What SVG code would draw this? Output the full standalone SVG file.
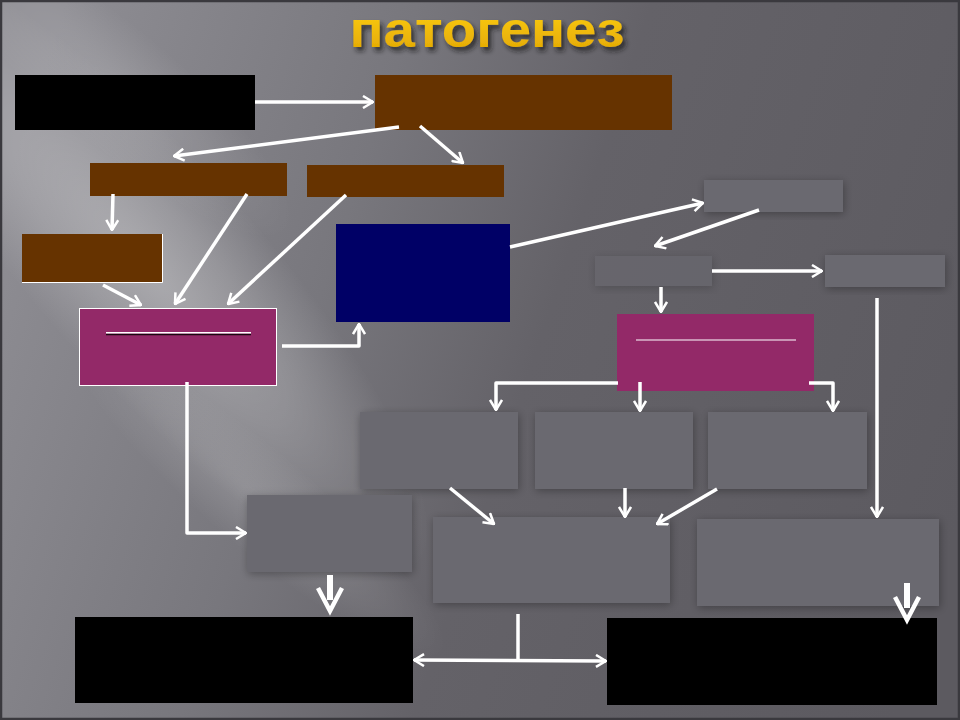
<svg xmlns="http://www.w3.org/2000/svg" width="960" height="720" viewBox="0 0 960 720">
<defs>
<linearGradient id="bg" gradientUnits="userSpaceOnUse" x1="0" y1="200" x2="960" y2="520">
<stop offset="0" stop-color="#8e8d93"/>
<stop offset="0.33" stop-color="#78777d"/>
<stop offset="0.55" stop-color="#646268"/>
<stop offset="1" stop-color="#5c5a60"/>
</linearGradient>
<radialGradient id="glow">
<stop offset="0" stop-color="#ffffff" stop-opacity="0.32"/>
<stop offset="0.5" stop-color="#ffffff" stop-opacity="0.18"/>
<stop offset="1" stop-color="#ffffff" stop-opacity="0"/>
</radialGradient>
<radialGradient id="glow2">
<stop offset="0" stop-color="#ffffff" stop-opacity="0.16"/>
<stop offset="1" stop-color="#ffffff" stop-opacity="0"/>
</radialGradient>
<linearGradient id="gold" x1="0" y1="0" x2="0" y2="1">
<stop offset="0" stop-color="#ffd21a"/>
<stop offset="1" stop-color="#e0a400"/>
</linearGradient>
<filter id="sh" x="-10%" y="-30%" width="130%" height="180%">
<feDropShadow dx="3" dy="4" stdDeviation="2.5" flood-color="#1a1a1a" flood-opacity="0.75"/>
</filter>
<filter id="bs" x="-15%" y="-25%" width="130%" height="150%">
<feDropShadow dx="1" dy="2" stdDeviation="4" flood-color="#000" flood-opacity="0.3"/>
</filter>
<marker id="ah" viewBox="0 0 12 14" markerUnits="userSpaceOnUse" markerWidth="12" markerHeight="14" refX="11" refY="7" orient="auto-start-reverse">
<path d="M1,1 L11,7 L1,13" fill="none" stroke="#fff" stroke-width="2.5"/>
</marker>
<style>
.c{fill:none;stroke:#fff;stroke-width:3.5;stroke-linejoin:round}
.a{marker-end:url(#ah)}
.thick{fill:none;stroke:#fff;stroke-width:6}
.chev{fill:none;stroke:#fff;stroke-width:4.5}
.blk{fill:#000}
.brn{fill:#663300}
.nvy{fill:#000066}
.mag{fill:#932968}
.gry{fill:#6b696f;filter:url(#bs)}
</style>
</defs>
<rect x="0" y="0" width="960" height="720" fill="url(#bg)"/>
<ellipse cx="150" cy="270" rx="400" ry="110" fill="url(#glow)" transform="rotate(48 150 270)"/>
<ellipse cx="120" cy="90" rx="220" ry="60" fill="url(#glow2)" transform="rotate(40 120 90)"/>
<ellipse cx="260" cy="500" rx="240" ry="50" fill="url(#glow2)" transform="rotate(40 260 500)"/>
<rect x="1" y="1" width="958" height="718" fill="none" stroke="#3a393e" stroke-width="2.5"/>

<text x="487" y="47" text-anchor="middle" font-family="'Liberation Sans', Arial, sans-serif" font-weight="bold" font-size="50" fill="url(#gold)" filter="url(#sh)" textLength="275" lengthAdjust="spacingAndGlyphs">патогенез</text>

<g id="n1"><rect class="blk" x="15" y="75" width="240" height="55"/></g>
<g id="n2"><rect class="brn" x="375" y="75" width="297" height="55"/></g>
<g id="n3"><rect class="brn" x="90" y="163" width="197" height="33"/></g>
<g id="n4"><rect class="brn" x="307" y="165" width="197" height="32"/></g>
<g id="n5"><rect class="brn" x="22" y="234" width="140" height="48"/><path d="M22,282.5 H162.5 V234" fill="none" stroke="#fff" stroke-width="1"/></g>
<g id="n6"><rect class="nvy" x="336" y="224" width="174" height="98"/></g>
<g id="n7"><rect class="mag" x="79.5" y="308.5" width="197" height="77" stroke="#fff" stroke-width="1"/><line x1="106" y1="334.5" x2="251" y2="334.5" stroke="#1a0610" stroke-width="1.5"/><line x1="106" y1="332.8" x2="251" y2="332.8" stroke="#fff" stroke-width="1.5"/></g>
<g id="n8"><rect class="gry" x="704" y="180" width="139" height="32"/></g>
<g id="n9"><rect class="gry" x="595" y="256" width="117" height="30" opacity="0.6"/></g>
<g id="n10"><rect class="gry" x="825" y="255" width="120" height="32"/></g>
<g id="n11"><rect class="mag" x="617" y="314" width="197" height="77"/><line x1="636" y1="340" x2="796" y2="340" stroke="#fff" stroke-width="1.2"/></g>
<g id="n12"><rect class="gry" x="360" y="412" width="158" height="77"/></g>
<g id="n13"><rect class="gry" x="535" y="412" width="158" height="77"/></g>
<g id="n14"><rect class="gry" x="708" y="412" width="159" height="77"/></g>
<g id="n15"><rect class="gry" x="247" y="495" width="165" height="77"/></g>
<g id="n16"><rect class="gry" x="433" y="517" width="237" height="86"/></g>
<g id="n17"><rect class="gry" x="697" y="519" width="242" height="87"/></g>
<g id="n18"><rect class="blk" x="75" y="617" width="338" height="86"/></g>
<g id="n19"><rect class="blk" x="607" y="618" width="330" height="87"/></g>

<g id="connectors">
<path class="c a" d="M255,102 H373"/>
<path class="c a" d="M399,127 L174,156"/>
<path class="c a" d="M420,126 L463,163"/>
<path class="c a" d="M113,194 L112,230"/>
<path class="c a" d="M103,285 L141,305"/>
<path class="c a" d="M247,194 L175,304"/>
<path class="c a" d="M346,195 L228,304"/>
<path class="c a" d="M282,346 H359 V324"/>
<path class="c a" d="M187,382 V533 H246"/>
<path class="c a" d="M510,247 L703,203"/>
<path class="c a" d="M759,210 L655,246"/>
<path class="c a" d="M712,271 H822"/>
<path class="c a" d="M661,287 V312"/>
<path class="c a" d="M877,298 V517"/>
<path class="c a" d="M618,383 H496 V410"/>
<path class="c a" d="M640,382 V411"/>
<path class="c a" d="M809,383 H833 V411"/>
<path class="c a" d="M450,488 L494,524"/>
<path class="c a" d="M625,488 V517"/>
<path class="c a" d="M717,489 L657,524"/>
<line class="thick" x1="330" y1="575" x2="330" y2="600"/>
<polyline class="chev" points="318,588 330,611 342,588"/>
<line class="thick" x1="907" y1="583" x2="907" y2="608"/>
<polyline class="chev" points="895,597 907,620 919,597"/>
<path class="c" d="M518,614 V660"/>
<path class="c" d="M414,660 L606,661" marker-start="url(#ah)" marker-end="url(#ah)"/>
</g>
</svg>
